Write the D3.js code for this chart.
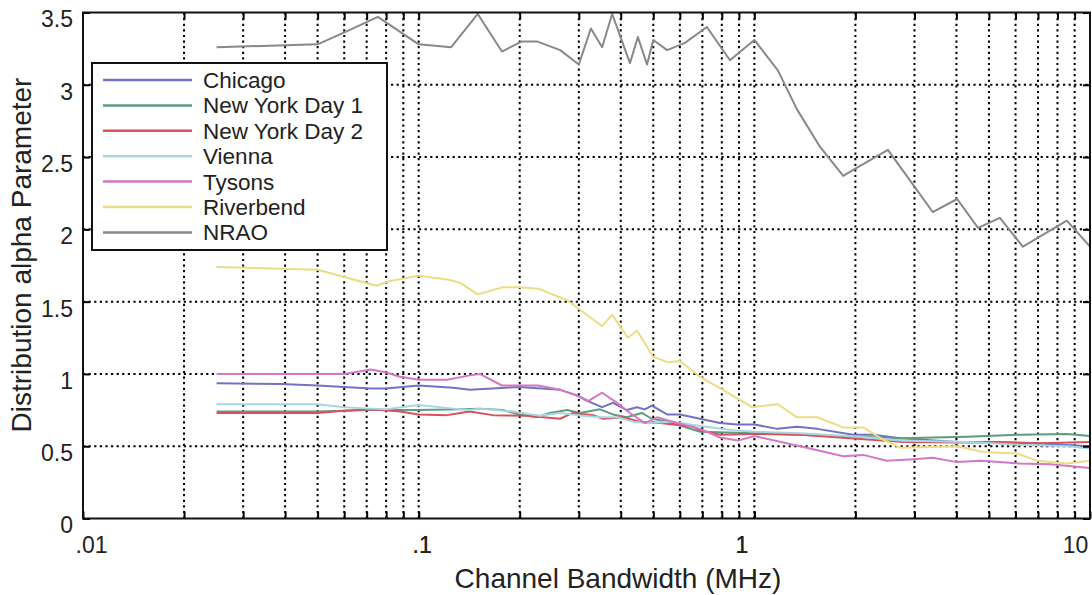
<!DOCTYPE html>
<html>
<head>
<meta charset="utf-8">
<script src="https://cdn.jsdelivr.net/npm/d3@7"></script>
<style>
  body { margin: 0; background: #fff; }
  svg { font-family: "Liberation Sans", Arial, Helvetica, sans-serif; }
</style>
</head>
<body>
<script>
// series: [bandwidth MHz, alpha]
var chicago = [[0.025,0.935],[0.039,0.93],[0.05,0.92],[0.06,0.91],[0.072,0.90],[0.08,0.90],[0.1,0.92],[0.127,0.905],[0.142,0.89],[0.2,0.91],[0.264,0.89],[0.298,0.85],[0.328,0.80],[0.352,0.77],[0.379,0.80],[0.417,0.75],[0.447,0.77],[0.472,0.755],[0.495,0.78],[0.55,0.72],[0.6,0.72],[0.689,0.69],[0.79,0.66],[0.888,0.65],[1.0,0.65],[1.17,0.62],[1.34,0.635],[1.54,0.62],[1.97,0.58],[2.26,0.58],[2.72,0.555],[4.02,0.53],[6.76,0.52],[10,0.50]];
var newYork1 = [[0.025,0.74],[0.05,0.74],[0.072,0.75],[0.1,0.75],[0.133,0.755],[0.152,0.76],[0.178,0.75],[0.2,0.72],[0.225,0.70],[0.246,0.73],[0.277,0.75],[0.302,0.73],[0.347,0.755],[0.379,0.72],[0.417,0.70],[0.462,0.73],[0.495,0.69],[0.55,0.67],[0.689,0.60],[1.0,0.59],[1.37,0.58],[2.07,0.565],[2.72,0.555],[4.3,0.565],[6.18,0.58],[8.53,0.585],[10,0.57]];
var newYork2 = [[0.025,0.73],[0.05,0.73],[0.06,0.745],[0.072,0.755],[0.088,0.74],[0.1,0.72],[0.1215,0.715],[0.133,0.73],[0.142,0.74],[0.166,0.715],[0.21,0.71],[0.264,0.69],[0.288,0.73],[0.331,0.715],[0.354,0.69],[0.406,0.70],[0.456,0.67],[0.524,0.66],[0.656,0.635],[0.689,0.61],[0.79,0.58],[1.0,0.585],[1.37,0.58],[2.07,0.55],[2.72,0.53],[4.02,0.525],[5.39,0.53],[7.1,0.52],[10,0.53]];
var vienna = [[0.025,0.79],[0.05,0.79],[0.06,0.77],[0.072,0.76],[0.08,0.755],[0.1,0.785],[0.127,0.76],[0.142,0.75],[0.152,0.76],[0.191,0.74],[0.23,0.71],[0.264,0.73],[0.296,0.715],[0.347,0.70],[0.39,0.70],[0.435,0.67],[0.479,0.66],[0.572,0.67],[0.689,0.64],[0.863,0.61],[1.0,0.60],[1.37,0.59],[2.07,0.565],[2.72,0.54],[4.3,0.53],[6.18,0.51],[8.53,0.50],[10,0.485]];
var tysons = [[0.025,1.00],[0.05,1.00],[0.06,1.00],[0.072,1.03],[0.08,1.01],[0.088,0.98],[0.1,0.96],[0.1215,0.96],[0.142,0.99],[0.152,1.00],[0.177,0.92],[0.227,0.92],[0.264,0.89],[0.296,0.85],[0.319,0.81],[0.352,0.87],[0.39,0.80],[0.426,0.73],[0.472,0.66],[0.513,0.70],[0.588,0.66],[0.689,0.62],[0.79,0.56],[0.894,0.54],[1.0,0.57],[1.37,0.50],[1.84,0.43],[2.11,0.44],[2.48,0.40],[2.97,0.41],[3.4,0.42],[4.02,0.39],[4.7,0.40],[5.39,0.39],[6.18,0.38],[7.6,0.375],[10,0.35]];
var riverbend = [[0.025,1.74],[0.05,1.72],[0.06,1.67],[0.075,1.61],[0.081,1.64],[0.1,1.68],[0.124,1.65],[0.133,1.63],[0.15,1.55],[0.178,1.60],[0.2,1.60],[0.227,1.59],[0.277,1.51],[0.352,1.33],[0.377,1.41],[0.42,1.25],[0.447,1.30],[0.499,1.12],[0.553,1.08],[0.6,1.09],[0.689,0.98],[0.806,0.89],[0.984,0.77],[1.175,0.79],[1.34,0.70],[1.54,0.70],[1.84,0.63],[2.11,0.63],[2.40,0.55],[2.72,0.49],[4.02,0.50],[4.8,0.46],[6.06,0.45],[6.95,0.40],[8.53,0.38],[10,0.40]];
var nrao = [[0.025,3.26],[0.05,3.28],[0.061,3.37],[0.0756,3.47],[0.1,3.28],[0.125,3.26],[0.15,3.49],[0.177,3.23],[0.203,3.30],[0.225,3.30],[0.264,3.24],[0.30,3.14],[0.326,3.39],[0.352,3.26],[0.377,3.49],[0.426,3.15],[0.45,3.33],[0.479,3.14],[0.5,3.31],[0.55,3.24],[0.621,3.29],[0.722,3.40],[0.846,3.17],[1.0,3.31],[1.175,3.10],[1.34,2.83],[1.57,2.57],[1.84,2.37],[2.0,2.42],[2.5,2.55],[2.97,2.31],[3.4,2.12],[4.02,2.21],[4.64,2.01],[5.39,2.08],[6.31,1.88],[8.53,2.06],[10,1.88]];

var seriesNames = ["Chicago", "New York Day 1", "New York Day 2", "Vienna", "Tysons", "Riverbend", "NRAO"];
var seriesData = [chicago, newYork1, newYork2, vienna, tysons, riverbend, nrao];
var seriesColors = ["#7272c4", "#5c9c80", "#d8505c", "#a8d6e0", "#d478c6", "#ecdc82", "#888888"];

var xLabelValues = [0.01, 0.1, 1, 10];
var xLabelText = [".01", ".1", "1", "10"];
var yTickValues = [0, 0.5, 1, 1.5, 2, 2.5, 3, 3.5];
var yTickText = ["0", "0.5", "1", "1.5", "2", "2.5", "3", "3.5"];

(function () {
  "use strict";

  var pLeft = 83, pRight = 1090, pTop = 12.5, pBottom = 518.5;

  var svg = d3.select("body").append("svg")
      .attr("width", 1092)
      .attr("height", 595);

  var x = d3.scaleLog().domain([0.01, 10]).range([pLeft, pRight]);
  var y = d3.scaleLinear().domain([0, 3.5]).range([pBottom, pTop]);

  var minorTicks = x.ticks().filter(function (d) { return d > 0.0100001 && d < 9.9999; });

  // dotted grid
  var grid = svg.append("g").attr("class", "grid")
      .attr("stroke", "#000")
      .attr("stroke-width", 2)
      .attr("stroke-dasharray", "2.2,3.4");
  grid.selectAll(".vg").data(minorTicks).enter().append("line")
      .attr("x1", function (d) { return x(d); })
      .attr("x2", function (d) { return x(d); })
      .attr("y1", pTop).attr("y2", pBottom);
  grid.selectAll(".hg").data(yTickValues.slice(1, -1)).enter().append("line")
      .attr("y1", function (d) { return y(d); })
      .attr("y2", function (d) { return y(d); })
      .attr("x1", pLeft).attr("x2", pRight);

  // series lines
  var line = d3.line()
      .x(function (d) { return x(d[0]); })
      .y(function (d) { return y(d[1]); });

  svg.append("g").selectAll("path")
      .data(seriesData)
      .enter().append("path")
      .attr("d", line)
      .attr("fill", "none")
      .attr("stroke", function (d, i) { return seriesColors[i]; })
      .attr("stroke-width", 2)
      .attr("stroke-linejoin", "round");

  // axes, ticks inward
  var xAxis = d3.axisBottom(x).tickValues(minorTicks.concat(xLabelValues))
      .tickSizeInner(-7).tickSizeOuter(0)
      .tickFormat(function (d) {
        var k = xLabelValues.indexOf(d);
        return k < 0 ? "" : xLabelText[k];
      });
  var gx = svg.append("g").attr("transform", "translate(0," + pBottom + ")").call(xAxis);
  var xShift = [8, 3, -13, -15];
  gx.selectAll(".tick text")
      .attr("font-size", 23).attr("fill", "#222")
      .attr("y", 34).attr("dy", null)
      .attr("dx", function (d) { var k = xLabelValues.indexOf(d); return k < 0 ? 0 : xShift[k]; });

  svg.append("g").attr("transform", "translate(0," + pTop + ")")
      .call(d3.axisTop(x).tickValues(minorTicks).tickSizeInner(-7).tickSizeOuter(0).tickFormat(""));

  var gy = svg.append("g").attr("transform", "translate(" + pLeft + ",0)")
      .call(d3.axisLeft(y).tickValues(yTickValues).tickSizeInner(-7).tickSizeOuter(0)
        .tickPadding(10)
        .tickFormat(function (d, i) { return yTickText[i]; }));
  gy.selectAll(".tick text")
      .attr("font-size", 23).attr("fill", "#222")
      .attr("y", 7);

  svg.append("g").attr("transform", "translate(" + pRight + ",0)")
      .call(d3.axisRight(y).tickValues(yTickValues).tickSizeInner(-7).tickSizeOuter(0).tickFormat(""));

  svg.selectAll(".domain").remove();
  svg.selectAll(".tick line").attr("stroke", "#000").attr("stroke-width", 2);
  svg.selectAll("g[font-family]").attr("font-family", null);

  svg.append("rect")
      .attr("x", pLeft).attr("y", pTop)
      .attr("width", pRight - pLeft).attr("height", pBottom - pTop)
      .attr("fill", "none").attr("stroke", "#111").attr("stroke-width", 2);

  // legend
  var legend = svg.append("g").attr("transform", "translate(92,63)");
  legend.append("rect")
      .attr("width", 295).attr("height", 187)
      .attr("fill", "#fff").attr("stroke", "#111").attr("stroke-width", 2);
  var rows = legend.selectAll(".row").data(seriesNames).enter().append("g")
      .attr("transform", function (d, i) { return "translate(0," + (17 + i * 25.4) + ")"; });
  rows.append("line")
      .attr("x1", 11).attr("x2", 100)
      .attr("stroke", function (d, i) { return seriesColors[i]; })
      .attr("stroke-width", 2.5);
  rows.append("text")
      .attr("x", 111).attr("y", 8)
      .attr("font-size", 22.5).attr("fill", "#222")
      .text(function (d) { return d; });

  // titles
  svg.append("text")
      .attr("x", 618).attr("y", 588)
      .attr("text-anchor", "middle")
      .attr("font-size", 28).attr("fill", "#222")
      .text("Channel Bandwidth (MHz)");
  svg.append("text")
      .attr("transform", "translate(31,255) rotate(-90)")
      .attr("text-anchor", "middle")
      .attr("font-size", 28).attr("fill", "#222")
      .text("Distribution alpha Parameter");
}());
</script>
</body>
</html>
